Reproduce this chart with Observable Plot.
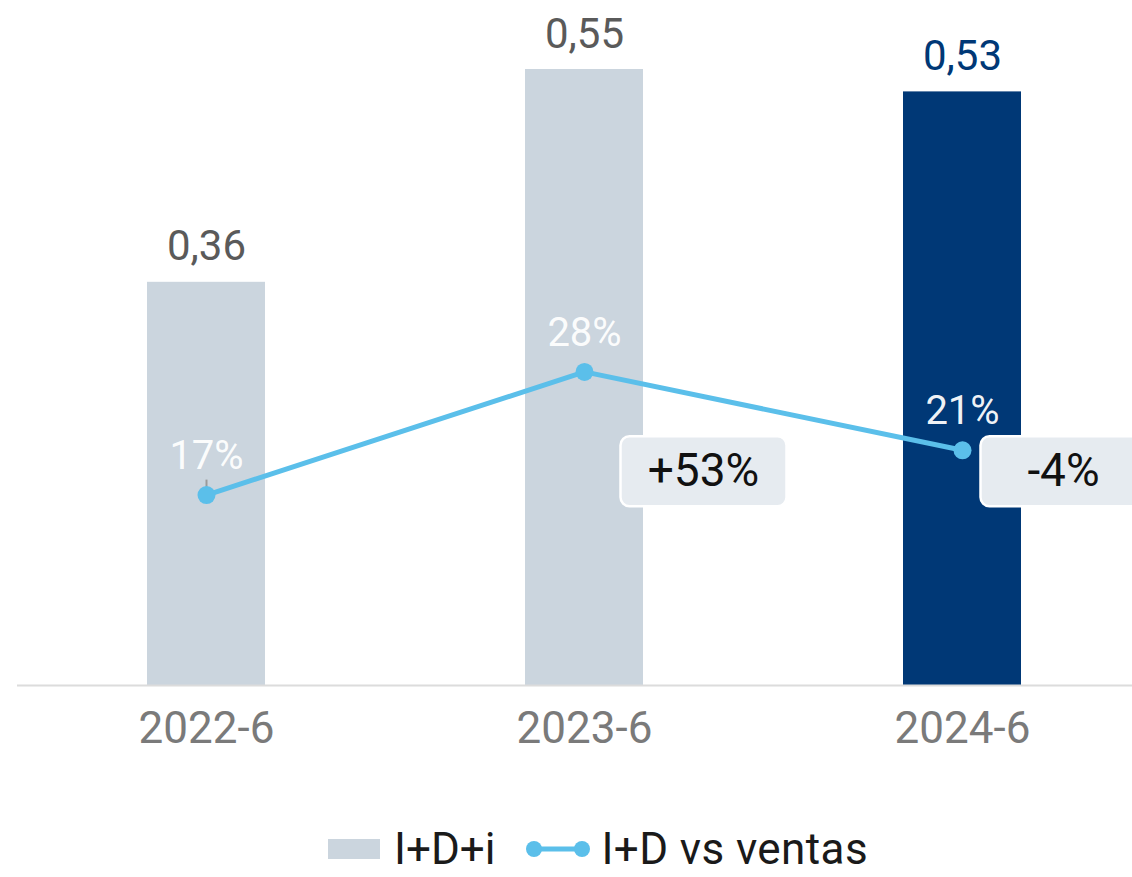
<!DOCTYPE html>
<html>
<head>
<meta charset="utf-8">
<script src="https://cdn.jsdelivr.net/npm/d3@7"></script>
<script src="https://cdn.jsdelivr.net/npm/@observablehq/plot@0.6"></script>
<style>
  html, body { margin: 0; padding: 0; background: #fff; }
  body { width: 1132px; height: 877px; overflow: hidden; font-family: Roboto, "Noto Sans", sans-serif; }
  #chart svg { display: block; }
  .legend { display: flex; align-items: center; height: 57px; padding-left: 328px; font-size: 44px; color: #1a1a1a; font-family: Roboto, sans-serif; }
  .legend .item { display: flex; align-items: center; margin-right: 30px; }
  .legend .sw-bar { width: 52px; height: 20px; background: #cbd5de; margin-right: 14px; }
  .legend svg { margin-right: 10px; }
  .legend .wide { letter-spacing: 0.4px; }
</style>
</head>
<body>
<div id="chart"></div>
<div class="legend">
  <div class="item"><div class="sw-bar"></div><span>I+D+i</span></div>
  <div class="item"><svg width="66" height="22"><line x1="9" y1="11" x2="57" y2="11" stroke="#5bbfea" stroke-width="5"/><circle cx="9" cy="11" r="8" fill="#5bbfea"/><circle cx="57" cy="11" r="8" fill="#5bbfea"/></svg><span class="wide">I+D vs ventas</span></div>
</div>
<script>
const periods = ["2022-6", "2023-6", "2024-6"];
const idi = [0.36, 0.55, 0.53];            // I+D+i (bars)
const idVentas = [0.17, 0.28, 0.21];       // I+D vs ventas (line), as share
const idVentasLabels = ["17%", "28%", "21%"];
const changeLabels = ["+53%", "-4%"];      // change vs previous period
const changePeriods = ["2023-6", "2024-6"];

const fmtComma = v => d3.format(".2f")(v).replace(".", ",");

const bars = periods.map((p, i) => ({period: p, value: idi[i], highlight: i === periods.length - 1}));
const line = periods.map((p, i) => ({period: p, value: idVentas[i], label: idVentasLabels[i]}));
const changes = changePeriods.map((p, i) => ({period: p, label: changeLabels[i]}));

const navy = "#003876";
const grey = "#cbd5de";
const blue = "#5bbfea";

const plot = Plot.plot({
  width: 1132,
  height: 820,
  marginLeft: 17,
  marginRight: 0,
  marginTop: 69,
  marginBottom: 135,
  style: {fontFamily: "Roboto, sans-serif", background: "transparent"},
  x: {domain: periods, range: [17, 1151], paddingInner: 0.688, paddingOuter: 0.344, label: null},
  y: {domain: [0, 0.55], axis: null},
  marks: [
    Plot.barY(bars, {x: "period", y: "value", fill: d => d.highlight ? navy : grey}),
    Plot.ruleY([0], {stroke: "#dcdcdc", strokeWidth: 2}),
    Plot.axisX({tickSize: 0, tickPadding: 26, fontSize: 44, fill: "#7a7a7a", label: null}),
    Plot.text(bars, {x: "period", y: "value", text: d => fmtComma(d.value), lineAnchor: "bottom", dy: -22, fontSize: 42, fill: d => d.highlight ? navy : "#5a5a5a"}),
    Plot.ruleX(line.slice(0, 1), {x: "period", y1: "value", y2: "value", insetTop: -15, stroke: "#9a9a9a", strokeWidth: 2}),
    Plot.line(line, {x: "period", y: "value", stroke: blue, strokeWidth: 5}),
    Plot.dot(line, {x: "period", y: "value", r: 9, fill: blue}),
    Plot.text(line, {x: "period", y: "value", text: "label", lineAnchor: "bottom", dy: -26, fontSize: 40, fill: "white", fillOpacity: 0.95}),
    Plot.text(changes.slice(0, 1), {x: "period", text: "label", frameAnchor: "top", lineAnchor: "middle", dy: 402, dx: 119, fontSize: 46, fill: "#111", className: "callout"}),
    Plot.text(changes.slice(1), {x: "period", text: "label", frameAnchor: "top", lineAnchor: "middle", dy: 402, dx: 101, fontSize: 46, fill: "#111", className: "callout"})
  ]
});

document.getElementById("chart").appendChild(plot);

// rounded background boxes (fixed width) behind the change callouts
d3.select(plot).selectAll("g.callout text").each(function() {
  const b = this.getBBox();
  const cx = b.x + b.width / 2, cy = b.y + b.height / 2;
  const w = 166, h = 70;
  d3.select(this.parentNode).insert("rect", () => this)
    .attr("transform", this.getAttribute("transform"))
    .attr("x", cx - w / 2).attr("y", cy - h / 2 + 1)
    .attr("width", w).attr("height", h)
    .attr("rx", 9).attr("ry", 9)
    .attr("fill", "#e6ebf0")
    .attr("stroke", "white").attr("stroke-width", 2.5);
});
</script>
</body>
</html>
